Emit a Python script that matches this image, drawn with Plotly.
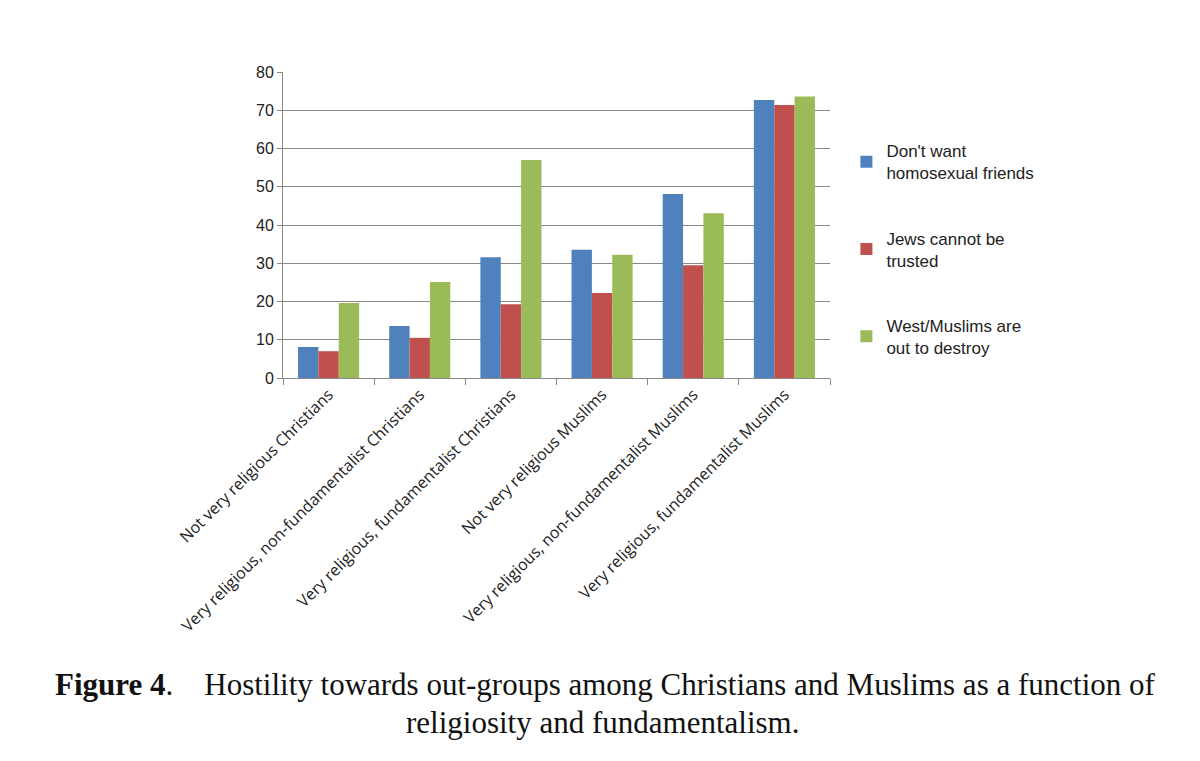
import plotly.graph_objects as go

categories = [
    "Not very religious Christians",
    "Very religious, non-fundamentalist Christians",
    "Very religious, fundamentalist Christians",
    "Not very religious Muslims",
    "Very religious, non-fundamentalist Muslims",
    "Very religious, fundamentalist Muslims",
]
homosexual_friends = [8.1, 13.6, 31.6, 33.5, 48.1, 72.7]
jews_trusted = [7.0, 10.5, 19.3, 22.2, 29.5, 71.4]
out_to_destroy = [19.6, 25.1, 57.0, 32.2, 43.1, 73.6]

series = [
    ("Don't want<br>homosexual friends", homosexual_friends, "#4f81bd"),
    ("Jews cannot be<br>trusted", jews_trusted, "#c0504d"),
    ("West/Muslims are<br>out to destroy", out_to_destroy, "#9bbb59"),
]

fig = go.Figure()
for i, (name, vals, color) in enumerate(series):
    fig.add_trace(go.Bar(x=categories, y=vals, name=name, marker_color=color,
                         marker_line_width=0, legendgroup=f"g{i}"))

fig.update_layout(
    width=1200, height=761,
    margin=dict(l=275, r=378, t=64, b=391),
    paper_bgcolor="white", plot_bgcolor="white",
    barmode="group", bargap=0.33, bargroupgap=0,
    font=dict(family="Liberation Sans, Arial", size=16, color="#222"),
    legend=dict(x=1.03, y=0.80, yanchor="top", tracegroupgap=40,
                font=dict(size=17), itemwidth=30),
)
fig.update_yaxes(range=[0, 80], dtick=10, showgrid=True, gridcolor="#888",
                 showline=True, linecolor="#888", ticks="outside", ticklen=5,
                 tickcolor="#888", zeroline=False)
fig.update_xaxes(tickangle=-45, showline=True, linecolor="#888", ticks="outside",
                 tickson="boundaries", ticklen=6, tickcolor="#888",
                 tickfont=dict(family="Open Sans, Noto Sans", size=16))

fig.add_annotation(xref="paper", yref="paper", x=0.59, y=-1.065,
                   text="<b>Figure 4</b>.    Hostility towards out-groups among Christians and Muslims as a function of",
                   showarrow=False, font=dict(family="Liberation Serif, DejaVu Serif", size=31, color="#111"))
fig.add_annotation(xref="paper", yref="paper", x=0.585, y=-1.19,
                   text="religiosity and fundamentalism.",
                   showarrow=False, font=dict(family="Liberation Serif, DejaVu Serif", size=31, color="#111"))

fig.write_html("out.html")
